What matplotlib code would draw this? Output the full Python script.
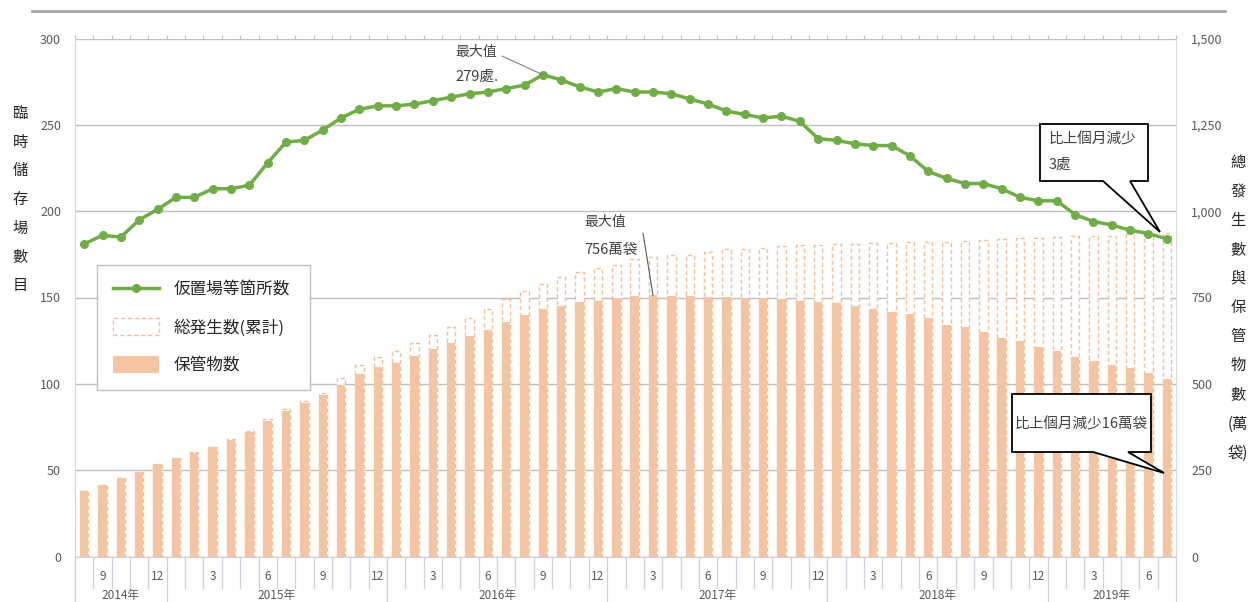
import matplotlib
matplotlib.use("Agg")
import matplotlib.pyplot as plt
from matplotlib.lines import Line2D
from matplotlib.patches import Patch, Polygon
from matplotlib.ticker import FuncFormatter, MultipleLocator
from matplotlib.transforms import blended_transform_factory

CJK_TC = ["Noto Sans CJK TC", "DejaVu Sans"]
CJK_JP = ["Noto Sans CJK JP", "DejaVu Sans"]
plt.rcParams["font.family"] = CJK_JP

# Monthly series, August 2014 through July 2019
start_year, start_month, n_months = 2014, 8, 60
periods = [(start_year + (start_month - 1 + k) // 12, (start_month - 1 + k) % 12 + 1)
           for k in range(n_months)]

# Number of temporary storage sites (left axis)
sites = [181, 186, 185, 195, 201, 208, 208, 213, 213, 215,
         228, 240, 241, 247, 254, 259, 261, 261, 262, 264,
         266, 268, 269, 271, 273, 279, 276, 272, 269, 271,
         269, 269, 268, 265, 262, 258, 256, 254, 255, 252,
         242, 241, 239, 238, 238, 232, 223, 219, 216, 216,
         213, 208, 206, 206, 198, 194, 192, 189, 187, 184]

# Cumulative bags generated (10k bags, right axis)
total_generated = [191, 208, 227, 246, 269, 286, 303, 318, 340, 363,
                   397, 426, 450, 473, 518, 554, 579, 596, 619, 641,
                   666, 690, 717, 745, 769, 790, 810, 825, 835, 844,
                   861, 866, 873, 873, 883, 890, 890, 894, 899, 902,
                   902, 904, 904, 909, 909, 912, 912, 912, 915, 917,
                   920, 921, 921, 924, 928, 928, 928, 936, 938, 938]

# Bags currently in storage (10k bags, right axis)
stored = [190, 207, 226, 245, 268, 284, 301, 316, 338, 360,
          393, 421, 444, 467, 497, 528, 548, 561, 581, 600,
          619, 639, 656, 678, 699, 716, 725, 737, 741, 748,
          755, 756, 755, 754, 752, 752, 750, 749, 746, 741,
          736, 733, 725, 716, 709, 701, 690, 670, 664, 651,
          634, 625, 608, 595, 579, 566, 555, 545, 531, 515]

legend_labels = ["仮置場等箇所数", "総発生数(累計)", "保管物数"]
left_title = "臨時儲存場數目"
right_title = ["總", "發", "生", "數", "與", "保", "管", "物", "數", "(萬", "袋)"]

GREEN = "#70AD47"
PEACH = "#F5C5A3"
PEACH_EDGE = "#F2BD99"
GRID = "#BFBFBF"
TICK_TXT = "#595959"
SEP = "#C9D4DE"

W, H = 1252, 602


def fp(x, y):
    """Pixel position (from top-left) to figure fraction."""
    return (x / W, 1 - y / H)


fig = plt.figure(figsize=(W / 100, H / 100), dpi=100)
ax = fig.add_axes([75 / W, 45.5 / H, 1101 / W, 518 / H])
ax2 = ax.twinx()
ax.set_zorder(2)
ax2.set_zorder(1)
ax.patch.set_visible(False)

x = list(range(n_months))

# Bars on the right axis
ax2.bar(x, total_generated, width=0.46, facecolor="white", edgecolor=PEACH_EDGE,
        linestyle=(0, (3, 2)), linewidth=1.0, zorder=2)
ax2.bar(x, stored, width=0.46, color=PEACH, linewidth=0, zorder=3)
ax2.set_ylim(0, 1500)
ax2.yaxis.set_major_locator(MultipleLocator(250))
ax2.yaxis.set_major_formatter(FuncFormatter(lambda v, p: f"{int(v):,}"))
ax2.set_axisbelow(True)
ax2.yaxis.grid(True, color=GRID, linewidth=1)
ax2.tick_params(axis="y", length=0, pad=11, labelsize=9, labelcolor=TICK_TXT)
ax2.tick_params(axis="x", which="both", bottom=False, top=False, labelbottom=False)

# Line on the left axis
ax.plot(x, sites, color=GREEN, linewidth=2.5, marker="o", markersize=5.5, zorder=5)
ax.set_ylim(0, 300)
ax.set_xlim(-0.5, n_months - 0.5)
ax.yaxis.set_major_locator(MultipleLocator(50))
ax.tick_params(axis="y", length=0, pad=10, labelsize=9, labelcolor=TICK_TXT)

# Small tick marks along the top edge at month boundaries
ax.set_xticks([k - 0.5 for k in range(n_months + 1)])
ax.tick_params(axis="x", bottom=False, top=True, labelbottom=False, labeltop=False,
               direction="out", length=3, color=GRID)

for a in (ax, ax2):
    for s in a.spines.values():
        s.set_visible(False)
ax2.spines["left"].set_visible(True)
ax2.spines["right"].set_visible(True)
ax2.spines["bottom"].set_visible(True)
ax2.spines["left"].set_color("#D9D9D9")
ax2.spines["right"].set_color("#D9D9D9")
ax2.spines["bottom"].set_color(SEP)

# Two-level category axis: month numbers and years
bt = blended_transform_factory(ax.transData, ax.transAxes)
ax_h = 518.0


def ay(py):
    return (556.5 - py) / ax_h


for k in range(n_months + 1):
    b = k - 0.5
    year_edge = k == 0 or k == n_months or periods[k][1] == 1
    y_end = ay(602) if year_edge else ay(588)
    ax.add_line(Line2D([b, b], [0, y_end], transform=bt, color=SEP, linewidth=0.9,
                       clip_on=False))

for k, (yr, mo) in enumerate(periods):
    if mo % 3 == 0:
        ax.text(k, ay(577), str(mo), transform=bt, ha="center", va="center",
                fontsize=8.5, color=TICK_TXT)

year_list = sorted(set(yr for yr, _ in periods))
for yr in year_list:
    idx = [k for k, (y_, _) in enumerate(periods) if y_ == yr]
    ax.text((idx[0] + idx[-1]) / 2, ay(596), f"{yr}年", transform=bt, ha="center",
            va="center", fontsize=8.5, color=TICK_TXT)

# Legend
handles = [Line2D([], [], color=GREEN, linewidth=2.5, marker="o", markersize=5.5),
           Patch(facecolor="white", edgecolor=PEACH_EDGE, linestyle=(0, (3, 2)), linewidth=1),
           Patch(facecolor=PEACH, linewidth=0)]
lx0, ly0 = fp(97, 265)
leg = ax.legend(handles, legend_labels, loc="upper left",
                bbox_to_anchor=(lx0, 0.2, 213 / W, ly0 - 0.2),
                bbox_transform=fig.transFigure, mode="expand", frameon=True,
                fancybox=False, edgecolor=GRID, framealpha=1, fontsize=12,
                handlelength=2.75, handleheight=1.2, handletextpad=0.9,
                labelspacing=1.15, borderpad=0.95, borderaxespad=0)
leg.get_frame().set_linewidth(1)
for t in leg.get_texts():
    t.set_color("#262626")

# Axis titles as stacked characters
fig.text(*fp(20, 199.5), "\n".join(left_title), ha="center", va="center",
         fontsize=11, family=CJK_TC, linespacing=1.9, color="#262626")
fig.text(*fp(1238, 307.5), "\n".join(right_title), ha="center", va="center",
         fontsize=11, family=CJK_TC, linespacing=1.93, color="#262626")

# Peak annotations
ANN = "#404040"
peak_site = max(range(n_months), key=lambda k: sites[k])
ax.annotate("", xy=(peak_site, sites[peak_site]), xycoords="data",
            xytext=fp(502, 56), textcoords="figure fraction",
            arrowprops=dict(arrowstyle="-", color="#7F7F7F", lw=0.8, shrinkA=0, shrinkB=0),
            zorder=6)
fig.text(*fp(455, 52), "最大值", ha="left", va="center", fontsize=10, family=CJK_TC, color=ANN)
fig.text(*fp(455, 77), f"{sites[peak_site]}處.", ha="left", va="center", fontsize=10.5,
         family=CJK_TC, color=ANN)

peak_bag = max(range(n_months), key=lambda k: stored[k])
ax.annotate("", xy=(peak_bag, stored[peak_bag] / 5), xycoords="data",
            xytext=fp(643, 233), textcoords="figure fraction",
            arrowprops=dict(arrowstyle="-", color="#595959", lw=0.8, shrinkA=0, shrinkB=0),
            zorder=6)
fig.text(*fp(584, 222), "最大值", ha="left", va="center", fontsize=10, family=CJK_TC, color=ANN)
fig.text(*fp(584, 250), f"{stored[peak_bag]}萬袋", ha="left", va="center", fontsize=10.5,
         family=CJK_TC, color=ANN)

# Callout boxes for the latest month
site_drop = sites[-2] - sites[-1]
bag_drop = stored[-2] - stored[-1]

call1 = [(1040, 124), (1148, 124), (1148, 181), (1130, 181), (1160, 232),
         (1103, 181), (1040, 181)]
fig.add_artist(Polygon([fp(*p) for p in call1], closed=True, transform=fig.transFigure,
                       facecolor="white", edgecolor="black", linewidth=1.3, zorder=10))
fig.text(*fp(1049, 139), "比上個月減少", ha="left", va="center", fontsize=10.5,
         family=CJK_TC, color=ANN, zorder=11)
fig.text(*fp(1049, 165), f"{site_drop}處", ha="left", va="center", fontsize=10.5,
         family=CJK_TC, color=ANN, zorder=11)

call2 = [(1012, 394), (1151, 394), (1151, 452), (1128, 452), (1164, 473),
         (1093, 452), (1012, 452)]
fig.add_artist(Polygon([fp(*p) for p in call2], closed=True, transform=fig.transFigure,
                       facecolor="white", edgecolor="black", linewidth=1.3, zorder=10))
fig.text(*fp(1081, 424), f"比上個月減少{bag_drop}萬袋", ha="center", va="center",
         fontsize=10.5, family=CJK_TC, color=ANN, zorder=11)

# Rule above the chart
fig.add_artist(Line2D([32 / W, 1225 / W], [1 - 11 / H, 1 - 11 / H], transform=fig.transFigure,
                      color="#A6A6A6", linewidth=2))

fig.savefig("out.png", dpi=100, facecolor="white")
